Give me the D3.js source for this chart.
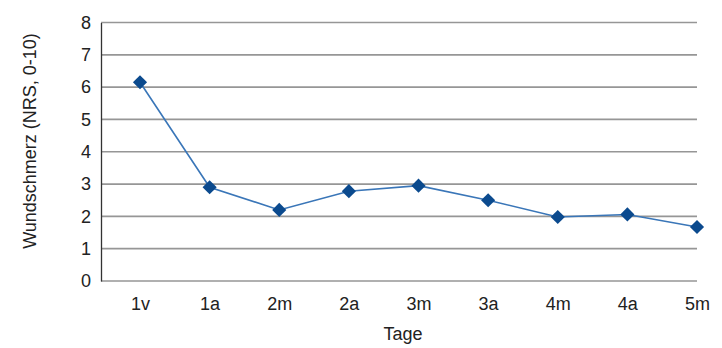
<!DOCTYPE html>
<html>
<head>
<meta charset="utf-8">
<script src="https://cdn.jsdelivr.net/npm/d3@7"></script>
<style>
  html, body { margin: 0; padding: 0; background: #fff; }
  svg { display: block; font-family: "Liberation Sans", Arial, Helvetica, sans-serif; }
</style>
</head>
<body>
<svg id="chart" width="722" height="348"></svg>
<script>
// Wound pain (NRS) per day: v = morning (vormittags), m = midday (mittags), a = evening (abends)
const categories = ["1v", "1a", "2m", "2a", "3m", "3a", "4m", "4a", "5m"];
const painValues = [6.15, 2.9, 2.2, 2.78, 2.95, 2.5, 1.98, 2.06, 1.67];
const yTicks = [0, 1, 2, 3, 4, 5, 6, 7, 8];

const svg = d3.select("#chart");
const plot = { left: 101, right: 697, top: 22.5, bottom: 281 };

const x = d3.scalePoint()
  .domain(categories)
  .range([plot.left + 39, plot.right]);

const y = d3.scaleLinear()
  .domain([0, 8])
  .range([plot.bottom, plot.top]);

// horizontal gridlines
svg.append("g")
  .selectAll("line")
  .data(yTicks)
  .join("line")
  .attr("x1", plot.left)
  .attr("x2", plot.right)
  .attr("y1", d => y(d))
  .attr("y2", d => y(d))
  .attr("stroke", "#969696")
  .attr("stroke-width", 1.7);

// y axis
const yAxis = svg.append("g")
  .attr("transform", `translate(${plot.left},0)`)
  .call(d3.axisLeft(y).tickValues(yTicks).tickSize(0).tickPadding(10).tickFormat(d3.format("d")));
yAxis.select(".domain").attr("stroke", "#333").attr("stroke-width", 1.3);
yAxis.selectAll("text")
  .attr("font-size", 18)
  .attr("fill", "#222")
  .attr("font-family", "Liberation Sans, Arial, sans-serif");

// x axis labels
const xAxis = svg.append("g")
  .attr("transform", `translate(0,${plot.bottom})`)
  .call(d3.axisBottom(x).tickSize(0).tickPadding(16));
xAxis.select(".domain").remove();
xAxis.selectAll("text")
  .attr("font-size", 18)
  .attr("fill", "#222")
  .attr("font-family", "Liberation Sans, Arial, sans-serif");

// axis titles
svg.append("text")
  .attr("transform", "translate(36,141) rotate(-90)")
  .attr("text-anchor", "middle")
  .attr("font-size", 18)
  .attr("fill", "#222")
  .text("Wundschmerz (NRS, 0-10)");

svg.append("text")
  .attr("x", 403)
  .attr("y", 340)
  .attr("text-anchor", "middle")
  .attr("font-size", 18)
  .attr("fill", "#222")
  .text("Tage");

// data line
const series = categories.map((c, i) => ({ c, v: painValues[i] }));

svg.append("path")
  .datum(series)
  .attr("fill", "none")
  .attr("stroke", "#3a76b8")
  .attr("stroke-width", 1.6)
  .attr("d", d3.line().x(d => x(d.c)).y(d => y(d.v)));

// diamond markers
svg.append("g")
  .selectAll("path")
  .data(series)
  .join("path")
  .attr("transform", d => `translate(${x(d.c)},${y(d.v)}) rotate(45)`)
  .attr("d", d3.symbol().type(d3.symbolSquare).size(100))
  .attr("fill", "#0b4a8e");
</script>
</body>
</html>
